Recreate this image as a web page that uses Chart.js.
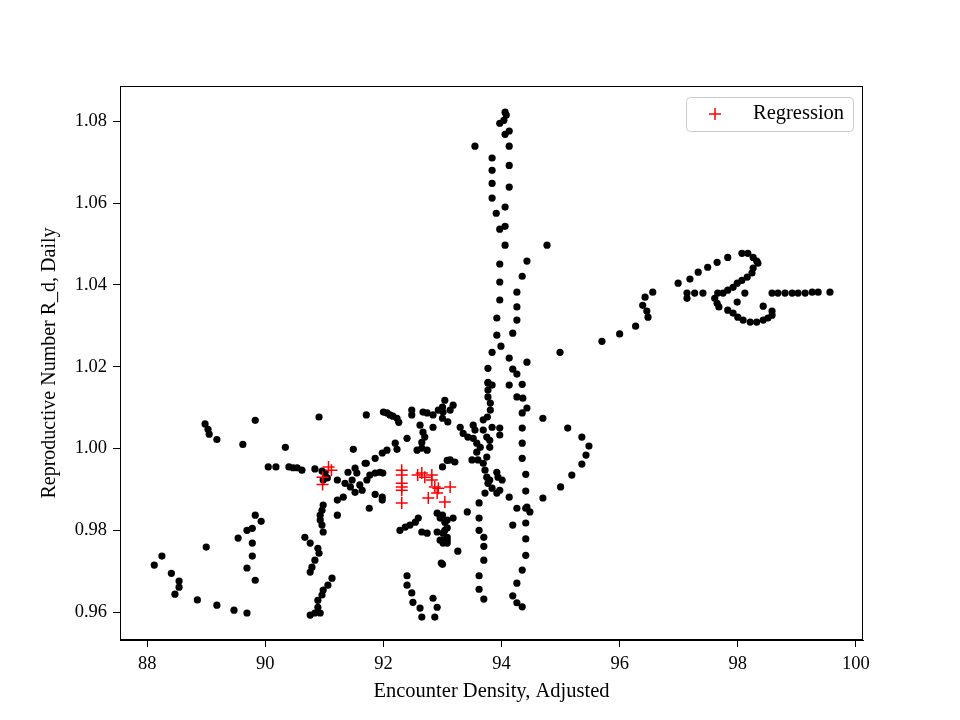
<!DOCTYPE html>
<html>
<head>
<meta charset="utf-8">
<script src="https://cdn.jsdelivr.net/npm/chart.js@4.4.0/dist/chart.umd.min.js"></script>
<style>
  body { margin: 0; background: #fff; }
  canvas { display: block; }
</style>
</head>
<body>
<canvas id="scatterChart" width="960" height="720"></canvas>
<script>
// observed points (black)
var densityX = [
  89.83, 88.98, 89.03, 89.05, 89.18, 89.62, 90.34, 90.05, 90.18, 90.40, 90.47, 90.54,
  89.83, 89.93, 89.69, 89.78, 89.54, 89.78, 89.78, 89.69, 89.83, 89.00, 88.25, 88.12,
  88.41, 88.54, 88.54, 88.47, 88.85, 89.18, 89.47, 89.69,
  90.91, 91.71, 92.00, 92.06, 92.11, 92.16, 92.23, 92.26, 92.48, 92.48, 92.67, 92.74,
  92.84, 92.93, 93.00, 93.00, 92.62, 92.67, 92.70, 92.65, 92.57, 92.65, 92.74, 92.84,
  92.40, 91.49, 92.23, 92.20, 92.06, 91.98, 91.86, 91.71, 90.62, 90.84, 90.96, 91.01,
  91.05, 90.98, 91.40, 91.52, 91.55, 91.47, 91.35, 91.44, 91.52, 91.60, 91.64, 91.72,
  91.77, 91.86, 91.94, 91.99, 91.69, 91.22, 91.32, 91.22, 91.22, 91.76, 91.86, 91.98,
  91.98, 90.98, 90.96, 90.93, 90.93, 90.96, 90.98, 90.67, 90.76, 90.89, 90.91, 90.84,
  90.79, 90.76, 91.13, 91.06, 90.98, 90.96, 90.89, 90.89, 90.84, 90.76, 90.93,
  92.28, 92.37, 92.45, 92.54, 92.59, 92.65, 92.74, 92.91, 92.96, 93.01, 93.08, 92.91,
  92.96, 92.98, 92.40, 92.40, 92.48, 92.50, 92.62, 92.65, 92.84, 92.91, 92.87, 93.00,
  93.08, 93.00, 93.04, 93.08, 93.01, 93.08,
  93.77, 93.77, 93.77, 93.81, 93.81, 93.76, 93.69, 94.13, 94.35, 94.26, 94.36, 94.35,
  94.43, 94.70, 94.35, 94.35, 94.35, 94.41, 94.41, 94.41, 94.41, 94.41, 94.41, 94.35,
  94.26, 94.19, 94.26, 94.35, 94.48, 94.43, 94.26, 94.19, 95.12, 95.36, 95.48, 95.43,
  95.36, 95.19, 95.00, 94.70, 94.13, 93.62, 93.62, 93.62, 93.70, 93.70, 93.70, 93.62,
  93.62, 93.70, 93.42, 93.26, 93.00,
  93.30, 93.35, 93.43, 93.52, 93.55, 93.52, 93.58, 93.64, 93.58, 93.50, 93.60, 93.69,
  93.75, 93.80, 93.80, 93.75, 93.69, 93.84, 93.97, 93.97, 93.72, 93.75, 93.77, 93.72,
  93.84, 93.92, 93.97, 93.94, 93.92, 94.01, 93.80, 93.13, 93.21, 93.04, 93.18, 93.13,
  93.01, 93.09, 93.08, 93.18, 93.04, 93.01, 93.08,
  94.06, 94.08, 94.04, 93.97, 94.13, 94.06, 93.55, 94.13, 93.84, 93.84, 93.84, 93.84,
  94.13, 94.13, 94.06, 93.91, 94.06, 93.97, 94.06, 94.77, 93.97, 94.43, 94.35, 93.97,
  94.26, 93.97, 94.26, 94.26, 93.92, 94.19, 93.92, 93.99, 93.84, 94.99, 94.13, 93.77,
  94.43, 94.19, 94.26, 93.77, 93.84,
  95.70, 96.00, 96.27, 96.48, 96.46, 96.39, 96.43, 96.56, 96.99, 97.19, 97.33, 97.49,
  97.65, 97.83, 98.07, 98.17, 98.26, 98.32, 98.34, 98.26, 98.24, 98.16, 98.07, 97.99,
  97.92, 97.83, 97.75, 97.14, 97.14, 97.27, 97.41, 97.66, 97.61, 97.65, 97.68, 98.12,
  97.99, 97.83, 97.92, 98.00, 98.09, 98.21, 98.32, 98.43, 98.51, 98.58, 98.58, 98.43,
  98.58, 98.68, 98.80, 98.92, 99.02, 99.14, 99.26, 99.36, 99.56
];
var reproY = [
  1.0069, 1.0060, 1.0047, 1.0035, 1.0022, 1.0010, 1.0003, 0.9955, 0.9955, 0.9955, 0.9953, 0.9953,
  0.9837, 0.9822, 0.9800, 0.9805, 0.9781, 0.9769, 0.9737, 0.9708, 0.9678, 0.9759, 0.9737, 0.9715,
  0.9695, 0.9676, 0.9661, 0.9644, 0.9630, 0.9617, 0.9605, 0.9598,
  1.0077, 1.0082, 1.0089, 1.0087, 1.0082, 1.0079, 1.0074, 1.0064, 1.0094, 1.0082, 1.0089, 1.0087,
  1.0082, 1.0094, 1.0101, 1.0074, 1.0057, 1.0040, 1.0028, 1.0015, 0.9996, 1.0001, 0.9996, 1.0052,
  1.0025, 0.9998, 0.9998, 1.0013, 0.9996, 0.9989, 0.9976, 0.9964, 0.9947, 0.9950, 0.9945, 0.9940,
  0.9928, 0.9923, 0.9942, 0.9952, 0.9940, 0.9923, 0.9915, 0.9906, 0.9893, 0.9911, 0.9898, 0.9923,
  0.9935, 0.9940, 0.9942, 0.9940, 0.9964, 0.9923, 0.9881, 0.9874, 0.9837, 0.9854, 0.9888, 0.9881,
  0.9874, 0.9862, 0.9849, 0.9837, 0.9825, 0.9813, 0.9796, 0.9783, 0.9769, 0.9756, 0.9744, 0.9727,
  0.9710, 0.9698, 0.9683, 0.9666, 0.9654, 0.9642, 0.9629, 0.9612, 0.9598, 0.9593, 0.9598,
  0.9800, 0.9808, 0.9813, 0.9820, 0.9830, 0.9796, 0.9793, 0.9796, 0.9776, 0.9769, 0.9776, 0.9842,
  0.9830, 0.9720, 0.9689, 0.9666, 0.9647, 0.9624, 0.9610, 0.9588, 0.9634, 0.9612, 0.9588, 0.9955,
  0.9971, 0.9837, 0.9820, 0.9806, 0.9793, 0.9783,
  1.0160, 1.0143, 1.0126, 1.0111, 1.0094, 1.0077, 1.0070, 1.0155, 1.0157, 1.0126, 1.0123, 1.0087,
  1.0099, 1.0074, 1.0050, 1.0013, 0.9976, 0.9937, 0.9896, 0.9854, 0.9818, 0.9779, 0.9739, 0.9703,
  0.9671, 0.9640, 0.9623, 0.9613, 0.9845, 0.9857, 0.9854, 0.9813, 1.0050, 1.0028, 1.0006, 0.9984,
  0.9962, 0.9935, 0.9906, 0.9879, 0.9881, 0.9867, 0.9830, 0.9800, 0.9783, 0.9761, 0.9727, 0.9689,
  0.9656, 0.9632, 0.9845, 0.9749, 0.9717,
  1.0052, 1.0037, 1.0028, 1.0057, 1.0045, 1.0025, 1.0013, 1.0003, 0.9991, 0.9972, 0.9972, 0.9964,
  0.9979, 1.0003, 1.0020, 1.0028, 1.0045, 1.0052, 1.0050, 1.0033, 0.9947, 0.9930, 0.9915, 0.9891,
  0.9903, 0.9891, 0.9898, 0.9930, 0.9942, 0.9923, 0.9923, 0.9972, 0.9967, 1.0118, 1.0106, 1.0094,
  1.0089, 1.0065, 0.9825, 0.9830, 0.9800, 0.9776, 0.9769,
  1.0822, 1.0815, 1.0802, 1.0795, 1.0776, 1.0768, 1.0739, 1.0739, 1.0710, 1.0680, 1.0648, 1.0612,
  1.0692, 1.0639, 1.0590, 1.0575, 1.0543, 1.0536, 1.0497, 1.0497, 1.0451, 1.0458, 1.0421, 1.0407,
  1.0382, 1.0363, 1.0346, 1.0314, 1.0319, 1.0282, 1.0277, 1.0250, 1.0235, 1.0235, 1.0221, 1.0196,
  1.0211, 1.0194, 1.0182, 1.0162, 1.0155,
  1.0262, 1.0280, 1.0299, 1.0321, 1.0336, 1.0350, 1.0370, 1.0382, 1.0404, 1.0414, 1.0431, 1.0443,
  1.0455, 1.0467, 1.0477, 1.0477, 1.0467, 1.0458, 1.0453, 1.0441, 1.0429, 1.0419, 1.0411, 1.0404,
  1.0394, 1.0387, 1.0380, 1.0380, 1.0367, 1.0380, 1.0380, 1.0380, 1.0367, 1.0355, 1.0346, 1.0380,
  1.0358, 1.0338, 1.0331, 1.0321, 1.0314, 1.0309, 1.0309, 1.0314, 1.0319, 1.0326, 1.0336, 1.0348,
  1.0380, 1.0380, 1.0380, 1.0380, 1.0380, 1.0380, 1.0382, 1.0382, 1.0382
];

// regression points (red +)
var regX = [91.07, 91.12, 90.97, 90.97, 92.31, 92.31, 92.31, 92.31, 92.31, 92.31, 92.58,
  92.65, 92.70, 92.82, 92.82, 92.87, 92.93, 92.91, 93.13, 92.76, 93.04];
var regY = [0.9955, 0.9947, 0.9930, 0.9912, 0.9947, 0.9935, 0.9915, 0.9906, 0.9898, 0.9867, 0.9935,
  0.9940, 0.9930, 0.9935, 0.9923, 0.9906, 0.9903, 0.9891, 0.9906, 0.9879, 0.9869];

var xTicks = [88, 90, 92, 94, 96, 98, 100];
var yTicks = [0.96, 0.98, 1.00, 1.02, 1.04, 1.06, 1.08];

var serif = "'Liberation Serif', 'DejaVu Serif', serif";

function toPoints(xs, ys) {
  return xs.map((x, i) => ({ x: x, y: ys[i] }));
}

// full box around plot area like matplotlib
const frame = {
  id: "frame",
  afterDatasetsDraw(chart) {
    const a = chart.chartArea, c = chart.ctx;
    c.save();
    c.strokeStyle = "#000";
    c.lineWidth = 1;
    c.strokeRect(a.left + 0.5, a.top + 0.5, a.right - a.left - 1, a.bottom - a.top - 1);
    c.restore();
  }
};

// legend box top right, only the regression set
const legendBox = {
  id: "legendBox",
  afterDraw(chart) {
    const a = chart.chartArea, c = chart.ctx;
    const ds = chart.data.datasets[0];
    const w = 167, h = 34;
    const left = a.right - 10 - w, top = a.top + 11;
    c.save();
    c.beginPath();
    c.roundRect(left + 0.5, top + 0.5, w, h, 4);
    c.fillStyle = "rgba(255,255,255,0.8)";
    c.fill();
    c.strokeStyle = "#cccccc";
    c.lineWidth = 1;
    c.stroke();
    const cx = left + 29, cy = top + h / 2;
    c.strokeStyle = ds.borderColor;
    c.lineWidth = 1.5;
    c.beginPath();
    c.moveTo(cx - 6, cy); c.lineTo(cx + 6, cy);
    c.moveTo(cx, cy - 6); c.lineTo(cx, cy + 6);
    c.stroke();
    c.fillStyle = "#000";
    c.font = "20.5px " + serif;
    c.textBaseline = "middle";
    c.fillText(ds.label, left + 67, cy);
    c.restore();
  }
};

new Chart(document.getElementById("scatterChart"), {
  type: "scatter",
  data: {
    datasets: [
      {
        label: "Regression",
        data: toPoints(regX, regY),
        pointStyle: "cross",
        pointRadius: 6,
        borderColor: "#ff0000",
        backgroundColor: "#ff0000",
        borderWidth: 1.5,
      },
      {
        label: "Observed",
        data: toPoints(densityX, reproY),
        pointStyle: "circle",
        pointRadius: 3.6,
        borderWidth: 0,
        backgroundColor: "#000",
        borderColor: "#000",
      },
    ],
  },
  options: {
    responsive: false,
    animation: false,
    layout: { padding: { top: 86, right: 97, left: 38, bottom: 12 } },
    plugins: {
      legend: { display: false },
      tooltip: { enabled: false },
    },
    scales: {
      x: {
        type: "linear",
        min: 87.54,
        max: 100.12,
        afterBuildTicks: (s) => { s.ticks = xTicks.map((v) => ({ value: v })); },
        afterFit: (s) => { s.height = 68; },
        ticks: { color: "#000", font: { family: serif, size: 18.5 }, padding: 6, callback: (v) => String(v) },
        grid: { drawOnChartArea: false, drawTicks: true, tickLength: 7, tickColor: "#000" },
        border: { color: "#000" },
        title: { display: true, text: "Encounter Density, Adjusted", color: "#000", font: { family: serif, size: 20.5 }, padding: { top: 4, bottom: 4 } },
      },
      y: {
        type: "linear",
        min: 0.9532,
        max: 1.0886,
        afterBuildTicks: (s) => { s.ticks = yTicks.map((v) => ({ value: v })); },
        afterFit: (s) => { s.width = 82; },
        ticks: { color: "#000", font: { family: serif, size: 18.5 }, padding: 6, callback: (v) => v.toFixed(2) },
        grid: { drawOnChartArea: false, drawTicks: true, tickLength: 7, tickColor: "#000" },
        border: { color: "#000" },
        title: { display: true, text: "Reproductive Number R_d, Daily", color: "#000", font: { family: serif, size: 20 }, padding: { top: 0, bottom: 0 } },
      },
    },
  },
  plugins: [frame, legendBox],
});
</script>
</body>
</html>
